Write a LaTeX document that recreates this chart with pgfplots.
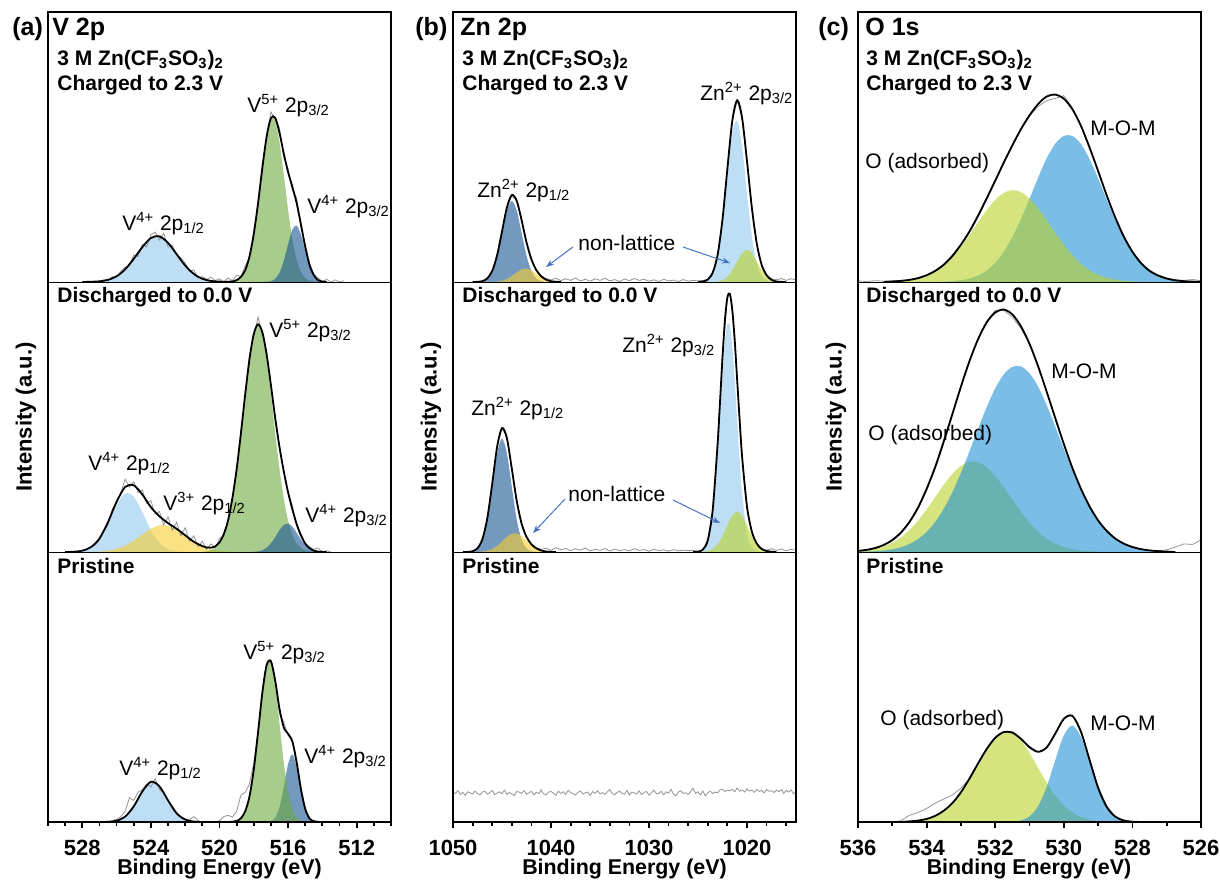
\documentclass[border=0pt]{standalone}
\usepackage{fontspec}
\setmainfont{Liberation Sans}
\usepackage{pgfplots}
\pgfplotsset{compat=1.18}
\usetikzlibrary{arrows.meta}

\definecolor{lb}{RGB}{147,200,238}
\definecolor{vg}{RGB}{110,170,63}
\definecolor{sb}{RGB}{22,85,147}
\definecolor{vy}{RGB}{247,205,47}
\definecolor{ob}{RGB}{33,145,213}
\definecolor{oy}{RGB}{185,210,40}
\definecolor{ar}{RGB}{68,114,196}

\newcommand{\hf}{\fontsize{12.5}{14}\selectfont\bfseries}
\newcommand{\sbf}{\fontsize{10.5}{12.5}\selectfont\bfseries}
\newcommand{\lf}{\fontsize{10.5}{12.5}\selectfont}

\pgfplotsset{
 xps/.style={scale only axis, width=171.5pt, height=135pt, x dir=reverse,
   ymin=0, ymax=1, ytick=\empty, axis line style={line width=0.4pt},
   clip=true, anchor=south west, axis on top},
 top/.style={xtick=\empty},
 bot/.style={xtick pos=left, tick align=outside, major tick length=3pt,
   minor tick length=1.8pt, tick style={line width=0.9pt, black},
   xticklabel style={font=\fontsize{11}{13}\selectfont\bfseries, yshift=-2.5pt},
   /pgf/number format/assume math mode=true, /pgf/number format/1000 sep={}},
 comp/.style={smooth, draw=none, fill opacity=0.6},
 env/.style={smooth, black, line width=0.9pt},
 raw/.style={sharp plot, black!42, line width=0.4pt},
}

\begin{document}
\begin{tikzpicture}
\path[use as bounding box] (0,0) rectangle (610pt,-442pt);

% ================= (a) V 2p =================
\begin{axis}[xps, top, xmin=510, xmax=530, at={(24pt,-141pt)}]
\addplot[comp, fill=lb] coordinates {(528,0) (527.5,0.001) (527,0.0025) (526.5,0.008) (526,0.021) (525.5,0.047) (525,0.086) (524.5,0.129) (524,0.163) (523.5,0.169) (523,0.145) (522.5,0.103) (522,0.061) (521.5,0.030) (521,0.012) (520.5,0.004) (520,0.001) (519.5,0)} \closedcycle;
\addplot[comp, fill=vg] coordinates {(519.5,0.0006) (519.25,0.002) (519,0.007) (518.75,0.019) (518.5,0.044) (518.25,0.095) (518,0.178) (517.75,0.293) (517.5,0.423) (517.25,0.538) (517,0.604) (516.75,0.596) (516.5,0.518) (516.25,0.396) (516,0.267) (515.75,0.158) (515.5,0.083) (515.25,0.038) (515,0.015) (514.75,0.005) (514.5,0.002) (514.25,0)} \closedcycle;
\addplot[comp, fill=sb] coordinates {(517.5,0) (517.25,0.0006) (517,0.003) (516.75,0.012) (516.5,0.034) (516.25,0.079) (516,0.140) (515.75,0.194) (515.5,0.209) (515.25,0.175) (515,0.115) (514.75,0.058) (514.5,0.023) (514.25,0.007) (514,0.002) (513.75,0)} \closedcycle;
\addplot[raw] coordinates {(527,0.003) (526.75,0.008) (526.5,0.006) (526.25,0.02) (526,0.018) (525.75,0.04) (525.5,0.055) (525.25,0.06) (525,0.1) (524.75,0.095) (524.5,0.14) (524.25,0.13) (524,0.175) (523.75,0.185) (523.5,0.155) (523.25,0.18) (523,0.13) (522.75,0.135) (522.5,0.1) (522.25,0.09) (522,0.07) (521.75,0.04) (521.5,0.045) (521.25,0.015) (521,0.02) (520.75,0.01) (520.5,0.018) (520.25,0.005) (520,0.012) (519.75,0.0) (519.5,0.015) (519.25,0.005) (519,0.025) (518.75,0.02) (518.5,0.06) (518.25,0.09) (518,0.19) (517.75,0.28) (517.5,0.44) (517.25,0.53) (517,0.63) (516.75,0.6) (516.5,0.57) (516.25,0.46) (516,0.42) (515.75,0.34) (515.5,0.31) (515.25,0.2) (515,0.14) (514.75,0.07) (514.5,0.03) (514.25,0.015) (514,0.0) (513.75,0.01) (513.5,0.0) (513.25,0.008) (513,0.0) (512.75,0.005)};
\addplot[env] coordinates {(528,0) (527.5,0.001) (527,0.0025) (526.5,0.008) (526,0.021) (525.5,0.047) (525,0.086) (524.5,0.129) (524,0.163) (523.5,0.169) (523,0.145) (522.5,0.103) (522,0.061) (521.5,0.030) (521,0.012) (520.5,0.004) (520,0.0015) (519.5,0.001) (519.25,0.002) (519,0.007) (518.75,0.019) (518.5,0.044) (518.25,0.095) (518,0.178) (517.75,0.293) (517.5,0.423) (517.25,0.539) (517,0.607) (516.75,0.608) (516.5,0.552) (516.25,0.475) (516,0.407) (515.75,0.352) (515.5,0.292) (515.25,0.213) (515,0.130) (514.75,0.063) (514.5,0.025) (514.25,0.007) (514,0.002) (513.75,0)};
\end{axis}

\begin{axis}[xps, top, xmin=510, xmax=530, at={(24pt,-276pt)}]
\addplot[comp, fill=lb] coordinates {(529,0) (528.5,0.001) (528,0.0045) (527.5,0.017) (527,0.048) (526.5,0.106) (526,0.174) (525.5,0.217) (525,0.205) (524.5,0.148) (524,0.080) (523.5,0.033) (523,0.010) (522.5,0.0025) (522,0.0005) (521.5,0)} \closedcycle;
\addplot[comp, fill=vy] coordinates {(528,0) (527.5,0.0005) (527,0.0017) (526.5,0.005) (526,0.0115) (525.5,0.024) (525,0.042) (524.5,0.065) (524,0.086) (523.5,0.099) (523,0.097) (522.5,0.083) (522,0.061) (521.5,0.038) (521,0.021) (520.5,0.010) (520,0.004) (519.5,0.0014) (519,0.0004) (518.5,0)} \closedcycle;
\addplot[comp, fill=vg] coordinates {(521,0) (520.5,0.0064) (520.25,0.015) (520,0.032) (519.75,0.064) (519.5,0.116) (519.25,0.198) (519,0.307) (518.75,0.440) (518.5,0.585) (518.25,0.715) (518,0.807) (517.75,0.84) (517.5,0.807) (517.25,0.715) (517,0.585) (516.75,0.440) (516.5,0.307) (516.25,0.198) (516,0.116) (515.75,0.064) (515.5,0.032) (515.25,0.015) (515,0.006) (514.75,0.0025) (514.5,0)} \closedcycle;
\addplot[comp, fill=sb] coordinates {(518.25,0) (518,0.0007) (517.75,0.0025) (517.5,0.0068) (517.25,0.016) (517,0.033) (516.75,0.055) (516.5,0.081) (516.25,0.100) (516,0.105) (515.75,0.094) (515.5,0.071) (515.25,0.046) (515,0.025) (514.75,0.0116) (514.5,0.0046) (514.25,0.0016) (514,0.0005) (513.75,0)} \closedcycle;
\addplot[raw] coordinates {(527.5,0.02) (527.25,0.025) (527,0.045) (526.75,0.08) (526.5,0.1) (526.25,0.16) (526,0.18) (525.75,0.22) (525.5,0.27) (525.25,0.24) (525,0.26) (524.75,0.22) (524.5,0.23) (524.25,0.18) (524,0.19) (523.75,0.14) (523.5,0.15) (523.25,0.1) (523,0.13) (522.75,0.08) (522.5,0.11) (522.25,0.06) (522,0.09) (521.75,0.04) (521.5,0.06) (521.25,0.02) (521,0.04) (520.75,0.01) (520.5,0.03) (520.25,0.015) (520,0.05) (519.75,0.06) (519.5,0.12) (519.25,0.2) (519,0.3) (518.75,0.45) (518.5,0.57) (518.25,0.73) (518,0.8) (517.75,0.87) (517.5,0.8) (517.25,0.74) (517,0.6) (516.75,0.5) (516.5,0.39) (516.25,0.3) (516,0.22) (515.75,0.17) (515.5,0.1) (515.25,0.07) (515,0.03) (514.75,0.02) (514.5,0.01) (514.25,0.015) (514,0.0) (513.75,0.005) (513.5,0.0)};
\addplot[env] coordinates {(529,0) (528.5,0.001) (528,0.005) (527.5,0.018) (527,0.050) (526.5,0.111) (526,0.186) (525.5,0.241) (525,0.247) (524.5,0.213) (524,0.166) (523.5,0.132) (523,0.107) (522.5,0.086) (522,0.062) (521.5,0.038) (521,0.022) (520.75,0.017) (520.5,0.016) (520.25,0.021) (520,0.036) (519.75,0.066) (519.5,0.117) (519.25,0.199) (519,0.307) (518.75,0.440) (518.5,0.585) (518.25,0.715) (518,0.808) (517.75,0.843) (517.5,0.814) (517.25,0.731) (517,0.618) (516.75,0.495) (516.5,0.388) (516.25,0.298) (516,0.221) (515.75,0.158) (515.5,0.103) (515.25,0.061) (515,0.031) (514.75,0.014) (514.5,0.005) (514.25,0.0016) (514,0.0005) (513.75,0)};
\end{axis}

\begin{axis}[xps, bot, xmin=510, xmax=530, at={(24pt,-411pt)},
  xtick={512,516,520,524,528}, minor xtick={510,511,...,530}]
\addplot[comp, fill=lb] coordinates {(527,0) (526.5,0.0008) (526,0.0048) (525.5,0.020) (525,0.058) (524.5,0.113) (524,0.149) (523.5,0.132) (523,0.080) (522.5,0.032) (522,0.009) (521.5,0.0017) (521,0)} \closedcycle;
\addplot[comp, fill=sb] coordinates {(517.25,0) (517,0.0034) (516.75,0.0165) (516.5,0.055) (516.25,0.130) (516,0.215) (515.75,0.250) (515.5,0.204) (515.25,0.116) (515,0.047) (514.75,0.013) (514.5,0.0027) (514.25,0.0004) (514,0)} \closedcycle;
\addplot[comp, fill=vg] coordinates {(519.25,0) (519,0.004) (518.75,0.014) (518.5,0.040) (518.25,0.095) (518,0.195) (517.75,0.333) (517.5,0.48) (517.25,0.581) (517,0.592) (516.75,0.506) (516.5,0.364) (516.25,0.220) (516,0.112) (515.75,0.048) (515.5,0.017) (515.25,0.005) (515,0.001) (514.75,0)} \closedcycle;
\addplot[raw] coordinates {(526.5,0.0) (526.25,0.005) (526,0.01) (525.75,0.02) (525.5,0.04) (525.25,0.09) (525,0.08) (524.75,0.11) (524.5,0.12) (524.25,0.14) (524,0.13) (523.75,0.16) (523.5,0.12) (523.25,0.11) (523,0.08) (522.75,0.06) (522.5,0.035) (522.25,0.02) (522,0.012) (521.75,0.008) (521.5,0.02) (521.25,0.005) (521,0.0) (520.25,0.0) (520,0.005) (519.75,0.02) (519.5,0.025) (519.25,0.018) (519,0.04) (518.75,0.1) (518.5,0.11) (518.25,0.14) (518,0.22) (517.75,0.34) (517.5,0.47) (517.25,0.58) (517,0.6) (516.75,0.52) (516.5,0.4) (516.25,0.37) (516,0.32) (515.75,0.3) (515.5,0.21) (515.25,0.13) (515,0.05) (514.75,0.015) (514.5,0.0)};
\addplot[env] coordinates {(527,0) (526.5,0.0008) (526,0.0048) (525.5,0.020) (525,0.058) (524.5,0.113) (524,0.149) (523.5,0.132) (523,0.080) (522.5,0.032) (522,0.009) (521.5,0.0017) (521,0)};
\addplot[env] coordinates {(519.5,0) (519.25,0.001) (519,0.004) (518.75,0.014) (518.5,0.040) (518.25,0.095) (518,0.195) (517.75,0.333) (517.5,0.48) (517.25,0.582) (517,0.595) (516.75,0.523) (516.5,0.419) (516.25,0.350) (516,0.327) (515.75,0.298) (515.5,0.221) (515.25,0.121) (515,0.048) (514.75,0.013) (514.5,0.003) (514.25,0.0004) (514,0)};
\end{axis}

% ================= (b) Zn 2p =================
\begin{axis}[xps, top, xmin=1015, xmax=1050, at={(226.5pt,-141pt)}]
\addplot[comp, fill=sb] coordinates {(1048,0) (1047.5,0.0007) (1047,0.0033) (1046.5,0.0132) (1046,0.0406) (1045.5,0.0974) (1045,0.182) (1044.5,0.265) (1044,0.3) (1043.5,0.265) (1043,0.182) (1042.5,0.0974) (1042,0.0406) (1041.5,0.0132) (1041,0.0033) (1040.5,0.0007) (1040,0)} \closedcycle;
\addplot[comp, fill=vy] coordinates {(1046.5,0) (1046,0.0004) (1045.5,0.0015) (1045,0.0046) (1044.5,0.0112) (1044,0.0223) (1043.5,0.0357) (1043,0.0469) (1042.5,0.0498) (1042,0.0431) (1041.5,0.0303) (1041,0.0175) (1040.5,0.0081) (1040,0.0031) (1039.5,0.0009) (1039,0.0002) (1038.5,0)} \closedcycle;
\addplot[comp, fill=lb] coordinates {(1025,0) (1024.5,0.0018) (1024,0.009) (1023.5,0.034) (1023,0.098) (1022.5,0.225) (1022,0.400) (1021.5,0.554) (1021,0.597) (1020.5,0.501) (1020,0.328) (1019.5,0.167) (1019,0.066) (1018.5,0.020) (1018,0.005) (1017.5,0.001) (1017,0)} \closedcycle;
\addplot[comp, fill=oy] coordinates {(1024,0) (1023.5,0.0005) (1023,0.002) (1022.5,0.0071) (1022,0.0197) (1021.5,0.043) (1021,0.076) (1020.5,0.107) (1020,0.12) (1019.5,0.107) (1019,0.076) (1018.5,0.043) (1018,0.0197) (1017.5,0.0071) (1017,0.002) (1016.5,0.0005) (1016,0)} \closedcycle;
\addplot[raw] coordinates {(1047,0.003) (1046.5,0.012) (1046,0.04) (1045.5,0.1) (1045,0.185) (1044.5,0.278) (1044,0.32) (1043.5,0.3) (1043,0.23) (1042.5,0.148) (1042,0.086) (1041.5,0.046) (1041,0.024) (1040.5,0.012) (1040,0.008) (1039.5,0.014) (1039,0.005) (1038.5,0.012) (1038,0.006) (1037.5,0.015) (1037,0.004) (1036.5,0.01) (1036,0.003) (1035.5,0.012) (1035,0.006) (1034.5,0.014) (1034,0.004) (1033.5,0.009) (1033,0.002) (1032.5,0.011) (1032,0.005) (1031.5,0.013) (1031,0.006) (1030.5,0.01) (1030,0.003) (1029.5,0.008) (1029,0.002) (1028.5,0.01) (1028,0.004) (1027.5,0.007) (1027,0.002) (1026.5,0.009) (1026,0.003) (1025.5,0.006) (1025,0.004) (1024.5,0.006) (1024,0.01) (1023.5,0.035) (1023,0.1) (1022.5,0.233) (1022,0.42) (1021.5,0.597) (1021,0.672) (1020.5,0.607) (1020,0.448) (1019.5,0.274) (1019,0.142) (1018.5,0.065) (1018,0.027) (1017.5,0.012) (1017,0.008) (1016.5,0.013) (1016,0.006) (1015.5,0.012) (1015,0.008)};
\addplot[env] coordinates {(1048,0) (1047.5,0.0007) (1047,0.0033) (1046.5,0.0133) (1046,0.041) (1045.5,0.099) (1045,0.187) (1044.5,0.276) (1044,0.322) (1043.5,0.301) (1043,0.229) (1042.5,0.147) (1042,0.084) (1041.5,0.044) (1041,0.021) (1040.5,0.009) (1040,0.003) (1039.5,0.001) (1039,0)};
\addplot[env] coordinates {(1025,0) (1024.5,0.0018) (1024,0.009) (1023.5,0.0345) (1023,0.100) (1022.5,0.232) (1022,0.420) (1021.5,0.597) (1021,0.673) (1020.5,0.608) (1020,0.448) (1019.5,0.274) (1019,0.142) (1018.5,0.063) (1018,0.025) (1017.5,0.008) (1017,0.002) (1016.5,0.0005) (1016,0)};
\end{axis}

\begin{axis}[xps, top, xmin=1015, xmax=1050, at={(226.5pt,-276pt)}]
\addplot[comp, fill=sb] coordinates {(1049,0) (1048.5,0.0005) (1048,0.0029) (1047.5,0.0132) (1047,0.0458) (1046.5,0.1206) (1046,0.241) (1045.5,0.366) (1045,0.42) (1044.5,0.366) (1044,0.241) (1043.5,0.1206) (1043,0.0458) (1042.5,0.0132) (1042,0.0029) (1041.5,0.0005) (1041,0)} \closedcycle;
\addplot[comp, fill=vy] coordinates {(1048,0) (1047.5,0.0005) (1047,0.0016) (1046.5,0.0046) (1046,0.0111) (1045.5,0.0227) (1045,0.0389) (1044.5,0.056) (1044,0.0678) (1043.5,0.069) (1043,0.059) (1042.5,0.0425) (1042,0.0256) (1041.5,0.0131) (1041,0.0056) (1040.5,0.002) (1040,0.0006) (1039.5,0)} \closedcycle;
\addplot[comp, fill=lb] coordinates {(1025.5,0) (1025,0.0011) (1024.5,0.0079) (1024,0.040) (1023.5,0.145) (1023,0.370) (1022.75,0.516) (1022.5,0.662) (1022.25,0.781) (1022,0.844) (1021.75,0.837) (1021.5,0.761) (1021.25,0.637) (1021,0.485) (1020.75,0.342) (1020.5,0.218) (1020,0.069) (1019.5,0.016) (1019,0.0026) (1018.5,0)} \closedcycle;
\addplot[comp, fill=oy] coordinates {(1025,0) (1024.5,0.001) (1024,0.0037) (1023.5,0.0114) (1023,0.0287) (1022.5,0.0594) (1022,0.099) (1021.5,0.135) (1021,0.15) (1020.5,0.135) (1020,0.099) (1019.5,0.0594) (1019,0.0287) (1018.5,0.0114) (1018,0.0037) (1017.5,0.001) (1017,0)} \closedcycle;
\addplot[raw] coordinates {(1048,0.004) (1047.5,0.014) (1047,0.048) (1046.5,0.126) (1046,0.252) (1045.5,0.39) (1045,0.46) (1044.5,0.422) (1044,0.31) (1043.5,0.19) (1043,0.106) (1042.5,0.058) (1042,0.03) (1041.5,0.016) (1041,0.01) (1040.5,0.014) (1040,0.006) (1039.5,0.016) (1039,0.008) (1038.5,0.013) (1038,0.005) (1037.5,0.012) (1037,0.007) (1036.5,0.015) (1036,0.004) (1035.5,0.01) (1035,0.006) (1034.5,0.013) (1034,0.003) (1033.5,0.011) (1033,0.005) (1032.5,0.009) (1032,0.004) (1031.5,0.012) (1031,0.006) (1030.5,0.009) (1030,0.003) (1029.5,0.01) (1029,0.005) (1028.5,0.008) (1028,0.003) (1027.5,0.009) (1027,0.004) (1026.5,0.007) (1026,0.005) (1025.5,0.006) (1025,0.003) (1024.5,0.01) (1024,0.045) (1023.5,0.156) (1023,0.4) (1022.5,0.72) (1022,0.944) (1021.75,0.958) (1021.5,0.895) (1021,0.634) (1020.5,0.354) (1020,0.168) (1019.5,0.075) (1019,0.032) (1018.5,0.013) (1018,0.007) (1017.5,0.012) (1017,0.006) (1016.5,0.011) (1016,0.005) (1015.5,0.01) (1015,0.006)};
\addplot[env] coordinates {(1049,0) (1048.5,0.0005) (1048,0.003) (1047.5,0.0137) (1047,0.0474) (1046.5,0.125) (1046,0.252) (1045.5,0.389) (1045,0.459) (1044.5,0.422) (1044,0.309) (1043.5,0.190) (1043,0.105) (1042.5,0.056) (1042,0.0285) (1041.5,0.0136) (1041,0.0056) (1040.5,0.002) (1040,0.0006) (1039.5,0)};
\addplot[env] coordinates {(1025.5,0) (1025,0.0011) (1024.5,0.0089) (1024,0.0437) (1023.5,0.156) (1023,0.399) (1022.75,0.558) (1022.5,0.721) (1022.25,0.860) (1022,0.943) (1021.75,0.956) (1021.5,0.896) (1021.25,0.783) (1021,0.635) (1020.75,0.488) (1020.5,0.353) (1020,0.168) (1019.5,0.075) (1019,0.031) (1018.5,0.011) (1018,0.0037) (1017.5,0.001) (1017,0)};
\end{axis}

\begin{axis}[xps, bot, xmin=1015, xmax=1050, at={(226.5pt,-411pt)},
  xtick={1020,1030,1040,1050}, minor xtick={1016,1018,...,1050}]
\addplot[raw] coordinates {(1050,0.113) (1049.75,0.105) (1049.5,0.116) (1049.25,0.102) (1049,0.110) (1048.75,0.099) (1048.5,0.112) (1048.25,0.108) (1048,0.104) (1047.75,0.115) (1047.5,0.106) (1047.25,0.100) (1047,0.111) (1046.75,0.114) (1046.5,0.103) (1046.25,0.109) (1046,0.117) (1045.75,0.101) (1045.5,0.107) (1045.25,0.112) (1045,0.105) (1044.75,0.118) (1044.5,0.102) (1044.25,0.110) (1044,0.104) (1043.75,0.098) (1043.5,0.113) (1043.25,0.111) (1043,0.106) (1042.75,0.116) (1042.5,0.103) (1042.25,0.108) (1042,0.114) (1041.75,0.100) (1041.5,0.110) (1041.25,0.105) (1041,0.119) (1040.75,0.104) (1040.5,0.101) (1040.25,0.111) (1040,0.113) (1039.75,0.107) (1039.5,0.099) (1039.25,0.114) (1039,0.106) (1038.75,0.112) (1038.5,0.102) (1038.25,0.117) (1038,0.109) (1037.75,0.105) (1037.5,0.100) (1037.25,0.110) (1037,0.115) (1036.75,0.103) (1036.5,0.108) (1036.25,0.111) (1036,0.098) (1035.75,0.113) (1035.5,0.106) (1035.25,0.116) (1035,0.104) (1034.75,0.109) (1034.5,0.102) (1034.25,0.112) (1034,0.120) (1033.75,0.105) (1033.5,0.101) (1033.25,0.110) (1033,0.114) (1032.75,0.107) (1032.5,0.103) (1032.25,0.117) (1032,0.100) (1031.75,0.111) (1031.5,0.108) (1031.25,0.104) (1031,0.115) (1030.75,0.102) (1030.5,0.110) (1030.25,0.113) (1030,0.099) (1029.75,0.109) (1029.5,0.118) (1029.25,0.105) (1029,0.106) (1028.75,0.114) (1028.5,0.101) (1028.25,0.112) (1028,0.107) (1027.75,0.121) (1027.5,0.103) (1027.25,0.097) (1027,0.111) (1026.75,0.116) (1026.5,0.106) (1026.25,0.108) (1026,0.102) (1025.75,0.113) (1025.5,0.125) (1025.25,0.106) (1025,0.112) (1024.75,0.100) (1024.5,0.115) (1024.25,0.097) (1024,0.109) (1023.75,0.114) (1023.5,0.106) (1023.25,0.111) (1023,0.108) (1022.75,0.119) (1022.5,0.122) (1022.25,0.113) (1022,0.118) (1021.75,0.116) (1021.5,0.121) (1021.25,0.112) (1021,0.126) (1020.75,0.114) (1020.5,0.119) (1020.25,0.111) (1020,0.123) (1019.75,0.115) (1019.5,0.118) (1019.25,0.110) (1019,0.121) (1018.75,0.113) (1018.5,0.117) (1018.25,0.108) (1018,0.120) (1017.75,0.114) (1017.5,0.116) (1017.25,0.109) (1017,0.118) (1016.75,0.112) (1016.5,0.120) (1016.25,0.106) (1016,0.117) (1015.75,0.111) (1015.5,0.119) (1015.25,0.104) (1015,0.114)};
\end{axis}

% ================= (c) O 1s =================
\begin{axis}[xps, top, xmin=526, xmax=536, at={(429pt,-141pt)}]
\addplot[comp, fill=ob] coordinates {(533.75,0) (533.5,0.0014) (533.25,0.0032) (533,0.0066) (532.75,0.0131) (532.5,0.0243) (532.25,0.0425) (532,0.0708) (531.75,0.112) (531.5,0.166) (531.25,0.233) (531,0.308) (530.75,0.386) (530.5,0.458) (530.25,0.512) (530,0.541) (529.75,0.541) (529.5,0.511) (529.25,0.455) (529,0.384) (528.75,0.305) (528.5,0.230) (528.25,0.1635) (528,0.110) (527.75,0.069) (527.5,0.0414) (527.25,0.024) (527,0.0128) (526.75,0.0064) (526.5,0.003) (526.25,0.0014) (526,0.0006)} \closedcycle;
\addplot[comp, fill=oy] coordinates {(535.25,0) (535,0.002) (534.75,0.004) (534.5,0.0078) (534.25,0.0142) (534,0.0248) (533.75,0.0407) (533.5,0.0626) (533.25,0.093) (533,0.131) (532.75,0.174) (532.5,0.221) (532.25,0.266) (532,0.304) (531.75,0.330) (531.5,0.340) (531.25,0.333) (531,0.309) (530.75,0.273) (530.5,0.229) (530.25,0.182) (530,0.138) (529.75,0.099) (529.5,0.067) (529.25,0.043) (529,0.027) (528.75,0.0157) (528.5,0.0087) (528.25,0.0045) (528,0.0023) (527.75,0.0011) (527.5,0)} \closedcycle;
\addplot[raw] coordinates {(536,0.004) (535.75,0.002) (535.5,0.005) (535.25,0.003) (535,0.004) (534.75,0.006) (534.5,0.009) (534.25,0.016) (534,0.027) (533.75,0.043) (533.5,0.066) (533.25,0.1) (533,0.14) (532.75,0.19) (532.5,0.25) (532.25,0.314) (532,0.378) (531.75,0.447) (531.5,0.508) (531.25,0.568) (531,0.615) (530.75,0.65) (530.5,0.672) (530.25,0.68) (530,0.69) (529.75,0.645) (529.5,0.58) (529.25,0.5) (529,0.414) (528.75,0.322) (528.5,0.24) (528.25,0.17) (528,0.113) (527.75,0.072) (527.5,0.043) (527.25,0.026) (527,0.015) (526.75,0.008) (526.5,0.006) (526.25,0.009) (526,0.005)};
\addplot[env] coordinates {(535.25,0) (535,0.002) (534.75,0.004) (534.5,0.0078) (534.25,0.0142) (534,0.025) (533.75,0.041) (533.5,0.064) (533.25,0.096) (533,0.138) (532.75,0.187) (532.5,0.245) (532.25,0.309) (532,0.375) (531.75,0.442) (531.5,0.506) (531.25,0.566) (531,0.617) (530.75,0.659) (530.5,0.687) (530.25,0.694) (530,0.679) (529.75,0.640) (529.5,0.578) (529.25,0.498) (529,0.411) (528.75,0.321) (528.5,0.239) (528.25,0.168) (528,0.112) (527.75,0.070) (527.5,0.0414) (527.25,0.024) (527,0.0128) (526.75,0.0064) (526.5,0.003) (526.25,0.0014) (526,0.0006)};
\end{axis}

\begin{axis}[xps, top, xmin=526, xmax=536, at={(429pt,-276pt)}]
\addplot[comp, fill=oy] coordinates {(536,0.0032) (535.75,0.0063) (535.5,0.0117) (535.25,0.0207) (535,0.0339) (534.75,0.054) (534.5,0.0817) (534.25,0.116) (534,0.158) (533.75,0.203) (533.5,0.249) (533.25,0.289) (533,0.319) (532.75,0.334) (532.5,0.332) (532.25,0.314) (532,0.281) (531.75,0.240) (531.5,0.194) (531.25,0.149) (531,0.109) (530.75,0.0754) (530.5,0.0496) (530.25,0.031) (530,0.0184) (529.75,0.0104) (529.5,0.0056) (529.25,0.0028) (529,0.0013) (528.75,0)} \closedcycle;
\addplot[comp, fill=ob] coordinates {(536,0.0007) (535.75,0.0015) (535.5,0.0029) (535.25,0.0055) (535,0.010) (534.75,0.0175) (534.5,0.0296) (534.25,0.0478) (534,0.0745) (533.75,0.111) (533.5,0.160) (533.25,0.221) (533,0.293) (532.75,0.373) (532.5,0.456) (532.25,0.536) (532,0.606) (531.75,0.658) (531.5,0.686) (531.25,0.687) (531,0.662) (530.75,0.613) (530.5,0.544) (530.25,0.465) (530,0.382) (529.75,0.301) (529.5,0.228) (529.25,0.166) (529,0.116) (528.75,0.078) (528.5,0.050) (528.25,0.031) (528,0.0186) (527.75,0.0106) (527.5,0.0059) (527.25,0.0031) (527,0.0016) (526.75,0)} \closedcycle;
\addplot[raw] coordinates {(536,0.006) (535.75,0.009) (535.5,0.016) (535.25,0.027) (535,0.046) (534.75,0.074) (534.5,0.114) (534.25,0.168) (534,0.238) (533.75,0.32) (533.5,0.415) (533.25,0.515) (533,0.615) (532.75,0.71) (532.5,0.79) (532.25,0.855) (532,0.895) (531.75,0.895) (531.5,0.87) (531.25,0.828) (531,0.772) (530.75,0.69) (530.5,0.596) (530.25,0.5) (530,0.404) (529.75,0.314) (529.5,0.236) (529.25,0.17) (529,0.118) (528.75,0.079) (528.5,0.05) (528.25,0.031) (528,0.018) (527.75,0.011) (527.5,0.006) (527.25,0.005) (527,0.008) (526.75,0.018) (526.5,0.03) (526.25,0.028) (526,0.045)};
\addplot[env] coordinates {(536,0.004) (535.75,0.0078) (535.5,0.0146) (535.25,0.026) (535,0.044) (534.75,0.0715) (534.5,0.111) (534.25,0.164) (534,0.233) (533.75,0.314) (533.5,0.409) (533.25,0.510) (533,0.612) (532.75,0.707) (532.5,0.788) (532.25,0.850) (532,0.887) (531.75,0.898) (531.5,0.880) (531.25,0.836) (531,0.771) (530.75,0.688) (530.5,0.594) (530.25,0.496) (530,0.400) (529.75,0.311) (529.5,0.234) (529.25,0.169) (529,0.117) (528.75,0.078) (528.5,0.050) (528.25,0.031) (528,0.0186) (527.75,0.0106) (527.5,0.0059) (527.25,0.0031) (527,0.0016) (526.75,0)};
\end{axis}

\begin{axis}[xps, bot, xmin=526, xmax=536, at={(429pt,-411pt)},
  xtick={526,528,...,536}, minor xtick={526,527,...,536}]
\addplot[comp, fill=oy] coordinates {(534.75,0) (534.5,0.0023) (534.25,0.0053) (534,0.0114) (533.75,0.0228) (533.5,0.0419) (533.25,0.070) (533,0.110) (532.75,0.161) (532.5,0.217) (532.25,0.270) (532,0.312) (531.75,0.333) (531.5,0.330) (531.25,0.302) (531,0.256) (530.75,0.201) (530.5,0.146) (530.25,0.098) (530,0.0613) (529.75,0.0355) (529.5,0.0188) (529.25,0.0092) (529,0.0042) (528.75,0.0018) (528.5,0.0007) (528.25,0)} \closedcycle;
\addplot[comp, fill=ob] coordinates {(531.75,0) (531.5,0.0013) (531.25,0.0058) (531,0.0208) (530.75,0.0586) (530.5,0.130) (530.25,0.229) (530,0.321) (529.75,0.357) (529.5,0.315) (529.25,0.221) (529,0.123) (528.75,0.0543) (528.5,0.0191) (528.25,0.0053) (528,0.0012) (527.75,0)} \closedcycle;
\addplot[raw] coordinates {(535,0.0) (534.75,0.005) (534.5,0.025) (534.25,0.035) (534,0.05) (533.75,0.07) (533.5,0.085) (533.25,0.1) (533,0.125) (532.75,0.16) (532.5,0.215) (532.25,0.27) (532,0.31) (531.75,0.335) (531.5,0.335) (531.25,0.31) (531,0.28) (530.75,0.26) (530.5,0.275) (530.25,0.33) (530,0.385) (529.75,0.395) (529.5,0.34) (529.25,0.235) (529,0.13) (528.75,0.06) (528.5,0.02) (528.25,0.008) (528,0.0)};
\addplot[env] coordinates {(534.75,0) (534.5,0.0023) (534.25,0.0053) (534,0.0114) (533.75,0.0228) (533.5,0.0419) (533.25,0.070) (533,0.110) (532.75,0.161) (532.5,0.217) (532.25,0.270) (532,0.312) (531.75,0.333) (531.5,0.331) (531.25,0.308) (531,0.277) (530.75,0.260) (530.5,0.276) (530.25,0.327) (530,0.382) (529.75,0.393) (529.5,0.334) (529.25,0.230) (529,0.127) (528.75,0.056) (528.5,0.020) (528.25,0.0053) (528,0.0012) (527.75,0)};
\end{axis}

% ================= annotations (pixel units) =================
\begin{scope}[x=0.5pt, y=-0.5pt, every node/.style={inner sep=0pt}]
\draw[line width=1pt] (48,12) rectangle (391,822);
\draw[line width=1pt] (453,12) rectangle (796,822);
\draw[line width=1pt] (858,12) rectangle (1201,822);

\node[anchor=base west, font=\hf] at (12,35) {(a)};
\node[anchor=base west, font=\hf] at (415,35) {(b)};
\node[anchor=base west, font=\hf] at (818,35) {(c)};
\node[anchor=base west, font=\hf] at (52,35) {V 2p};
\node[anchor=base west, font=\hf] at (460,35) {Zn 2p};
\node[anchor=base west, font=\hf] at (865,35) {O 1s};

\foreach \ox in {57,462,866}{
  \node[anchor=base west, font=\sbf] at (\ox,65) {3 M Zn(CF\textsubscript{3}SO\textsubscript{3})\textsubscript{2}};
  \node[anchor=base west, font=\sbf] at (\ox,90) {Charged to 2.3 V};
  \node[anchor=base west, font=\sbf] at (\ox,302) {Discharged to 0.0 V};
  \node[anchor=base west, font=\sbf] at (\ox,573) {Pristine};
}
\foreach \ox in {26,431,836}{
  \node[rotate=90, font=\fontsize{11}{13}\selectfont\bfseries] at (\ox,417) {Intensity (a.u.)};
}
\foreach \ox in {219.5,624.5,1029}{
  \node[font=\fontsize{10.7}{13}\selectfont\bfseries] at (\ox,869) {Binding Energy (eV)};
}

% V labels
\node[anchor=base west, font=\lf] at (247,112) {V\textsuperscript{5+} 2p\textsubscript{3/2}};
\node[anchor=base west, font=\lf] at (122,230) {V\textsuperscript{4+} 2p\textsubscript{1/2}};
\node[anchor=base west, font=\lf] at (307,213) {V\textsuperscript{4+} 2p\textsubscript{3/2}};
\node[anchor=base west, font=\lf] at (269,337) {V\textsuperscript{5+} 2p\textsubscript{3/2}};
\node[anchor=base west, font=\lf] at (88,470) {V\textsuperscript{4+} 2p\textsubscript{1/2}};
\node[anchor=base west, font=\lf] at (163,510) {V\textsuperscript{3+} 2p\textsubscript{1/2}};
\node[anchor=base west, font=\lf] at (305,522) {V\textsuperscript{4+} 2p\textsubscript{3/2}};
\node[anchor=base west, font=\lf] at (243,659) {V\textsuperscript{5+} 2p\textsubscript{3/2}};
\node[anchor=base west, font=\lf] at (119,775) {V\textsuperscript{4+} 2p\textsubscript{1/2}};
\node[anchor=base west, font=\lf] at (304,763) {V\textsuperscript{4+} 2p\textsubscript{3/2}};
% Zn labels
\node[anchor=base west, font=\lf] at (700,100) {Zn\textsuperscript{2+} 2p\textsubscript{3/2}};
\node[anchor=base west, font=\lf] at (477,197) {Zn\textsuperscript{2+} 2p\textsubscript{1/2}};
\node[anchor=base west, font=\lf] at (578,250) {non-lattice};
\node[anchor=base west, font=\lf] at (622,352) {Zn\textsuperscript{2+} 2p\textsubscript{3/2}};
\node[anchor=base west, font=\lf] at (471,415) {Zn\textsuperscript{2+} 2p\textsubscript{1/2}};
\node[anchor=base west, font=\lf] at (568,501) {non-lattice};
\draw[ar, line width=0.5pt, -{Stealth[length=4pt,width=3pt]}] (573,247) -- (546,267);
\draw[ar, line width=0.5pt, -{Stealth[length=4pt,width=3pt]}] (683,247) -- (730,263);
\draw[ar, line width=0.5pt, -{Stealth[length=4pt,width=3pt]}] (565,499) -- (533,533);
\draw[ar, line width=0.5pt, -{Stealth[length=4pt,width=3pt]}] (673,500) -- (720,523);
% O labels
\node[anchor=base west, font=\lf] at (1090,135) {M-O-M};
\node[anchor=base west, font=\lf] at (865,168) {O (adsorbed)};
\node[anchor=base west, font=\lf] at (1051,378) {M-O-M};
\node[anchor=base west, font=\lf] at (868,440) {O (adsorbed)};
\node[anchor=base west, font=\lf] at (880,725) {O (adsorbed)};
\node[anchor=base west, font=\lf] at (1090,730) {M-O-M};
\end{scope}
\end{tikzpicture}
\end{document}
